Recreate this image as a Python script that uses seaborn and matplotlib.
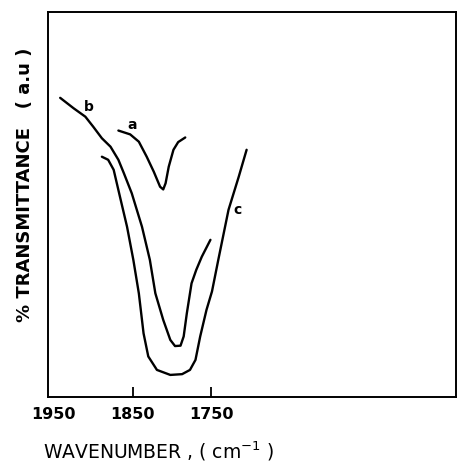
import pandas as pd
import numpy as np
import seaborn as sns
import matplotlib.pyplot as plt
import matplotlib.transforms as mtransforms

# values (wavenumber cm-1, transmittance a.u.)
wn_a = [1868, 1853, 1842, 1832, 1823, 1815, 1811, 1808, 1804, 1798, 1792, 1783]
tr_a = [69.2, 68.2, 66.3, 62.4, 58.5, 54.6, 53.9, 55.5, 59.8, 64.2, 66.2, 67.4]

wn_b = [1942, 1925, 1910, 1900, 1889, 1878, 1868, 1861, 1851, 1838, 1828, 1821,
        1811, 1802, 1796, 1789, 1785, 1781, 1775, 1769, 1762, 1751]
tr_b = [77.7, 75.0, 72.8, 70.2, 67.2, 65.0, 61.6, 58.1, 52.9, 44.2, 35.6, 26.9,
        20.0, 14.8, 13.2, 13.3, 15.7, 21.7, 29.5, 33.0, 36.4, 40.8]

wn_c = [1889, 1881, 1874, 1866, 1857, 1849, 1842, 1836, 1830, 1819, 1802, 1787,
        1777, 1770, 1764, 1756, 1749, 1741, 1728, 1715, 1705]
tr_c = [62.4, 61.6, 59.0, 52.0, 44.2, 35.6, 26.9, 16.5, 10.5, 7.0, 5.7, 5.9,
        7.0, 9.6, 15.7, 22.6, 27.4, 35.6, 48.6, 57.2, 64.2]

curve_labels = ['a', 'b', 'c']
label_pos = [(1851, 70.6), (1906, 75.3), (1717, 48.6)]
tick_vals = [1950, 1850, 1750]

df = pd.concat([
    pd.DataFrame({'wn': wn_a, 'tr': tr_a, 'curve': 'a'}),
    pd.DataFrame({'wn': wn_b, 'tr': tr_b, 'curve': 'b'}),
    pd.DataFrame({'wn': wn_c, 'tr': tr_c, 'curve': 'c'}),
])

sns.set_style('ticks')
plt.rcParams['text.color'] = 'black'
plt.rcParams['axes.labelcolor'] = 'black'
plt.rcParams['xtick.color'] = 'black'
plt.rcParams['ytick.color'] = 'black'

fig = plt.figure(figsize=(4.57, 4.62), dpi=100)
ax = fig.add_axes([0.105, 0.141, 0.893, 0.833])

for name in curve_labels:
    d = df[df['curve'] == name]
    sns.lineplot(data=d, x='wn', y='tr', sort=False, estimator=None,
                 color='black', linewidth=1.7, ax=ax,
                 solid_joinstyle='round', solid_capstyle='round')

for name, (x, y) in zip(curve_labels, label_pos):
    ax.text(x, y, name, fontsize=10, fontweight='bold', ha='center', va='center')

ax.set_xlim(1957.5, 1438.7)
ax.set_ylim(0, 100)
ax.set_xticks(tick_vals)
ax.set_xticklabels([str(t) for t in tick_vals], fontsize=11.5, fontweight='bold')
ax.xaxis.get_major_ticks()[0].tick1line.set_visible(False)
lab0 = ax.get_xticklabels()[0]
lab0.set_transform(lab0.get_transform() + mtransforms.ScaledTranslation(0.14, 0, fig.dpi_scale_trans))
ax.tick_params(axis='x', direction='in', length=7, width=1.3, pad=7)
ax.set_yticks([])

for s in ax.spines.values():
    s.set_linewidth(1.4)
    s.set_color('black')

ax.set_xlabel('WAVENUMBER , ( cm$^{-1}$ )', fontsize=13.5, loc='left')
ax.xaxis.set_label_coords(-0.012, -0.112)
ax.set_ylabel('% TRANSMITTANCE   ( a.u )', fontsize=13, fontweight='bold')
ax.yaxis.set_label_coords(-0.035, 0.55)

plt.savefig('out.png', dpi=100)
